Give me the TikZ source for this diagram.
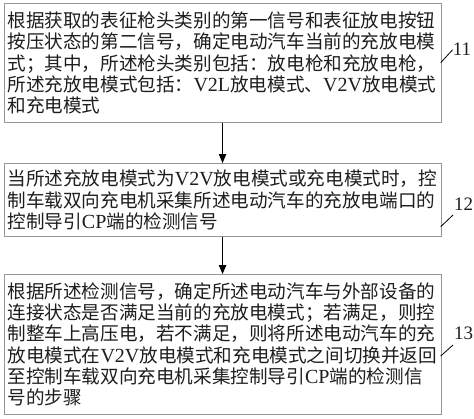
\documentclass[tikz,border=0pt]{standalone}
\usepackage{fontspec}
\newfontfamily\cjk{Noto Sans CJK SC}
\newfontfamily\lat{Liberation Serif}
\newcommand{\latin}[1]{{\lat\fontsize{20}{21}\selectfont #1}}
\usetikzlibrary{arrows.meta,calc}
\definecolor{boxgray}{RGB}{150,150,150}
\definecolor{txtgray}{RGB}{30,30,30}
\tikzset{
  stepbox/.style={draw=boxgray, line width=0.9pt, text width=430pt, inner xsep=3.6pt, inner ysep=0pt,
    align=left, anchor=north west, font=\cjk\fontsize{18.6}{21.3}\selectfont, text=txtgray},
  flow/.style={draw=black, line width=0.9pt, -{Triangle[length=9pt,width=7.5pt]}},
  lab/.style={inner sep=0pt, font=\lat\fontsize{19}{19}\selectfont, text=txtgray},
  tick/.style={draw=black, line width=0.8pt}
}
\begin{document}
\begin{tikzpicture}[x=1pt,y=-1pt]
\useasboundingbox[fill=white] (0,0) rectangle (474,418);
\node[stepbox, minimum height=119pt] (b1) at (3.5,3) {根据获取的表征枪头类别的第一信号和表征放电按钮\\按压状态的第二信号，确定电动汽车当前的充放电模\\式；其中，所述枪头类别包括：放电枪和充放电枪，\\所述充放电模式包括：\latin{V2L}放电模式、\latin{V2V}放电模式\\和充电模式};
\node[stepbox, minimum height=73pt] (b2) at (3.5,163) {当所述充放电模式为\latin{V2V}放电模式或充电模式时，控\\制车载双向充电机采集所述电动汽车的充放电端口的\\控制导引\latin{CP}端的检测信号};
\node[stepbox, minimum height=140pt] (b3) at (3.5,274) {根据所述检测信号，确定所述电动汽车与外部设备的\\连接状态是否满足当前的充放电模式；若满足，则控\\制整车上高压电，若不满足，则将所述电动汽车的充\\放电模式在\latin{V2V}放电模式和充电模式之间切换并返回\\至控制车载双向充电机采集控制导引\latin{CP}端的检测信\\号的步骤};
\draw[flow] (b1.south) -- (b2.north);
\draw[flow] (b2.south) -- (b3.north);
\node[lab] (l1) at (462,49.7) {11};
\node[lab] (l2) at (463.5,204) {12};
\node[lab] (l3) at (463.5,333.5) {13};
\coordinate (t1a) at (440.7,62.7);
\coordinate (t2a) at (440.7,226.7);
\coordinate (t2b) at (453,215);
\coordinate (t3a) at (440.7,356);
\coordinate (t3b) at (453,345);
\draw[tick] (t1a) -- (l1.west);
\draw[tick] (t2a) -- (t2b);
\draw[tick] (t3a) -- (t3b);
\end{tikzpicture}
\end{document}
